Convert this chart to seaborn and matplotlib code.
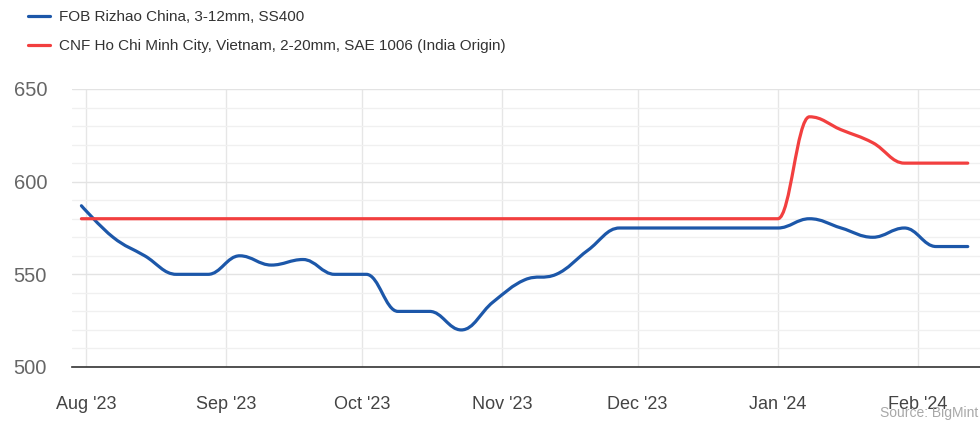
"""Steel plate price comparison chart."""

import matplotlib

matplotlib.use("Agg")
import matplotlib.dates as mdates
import matplotlib.pyplot as plt
import pandas as pd
import seaborn as sns
from matplotlib.lines import Line2D
from matplotlib.patches import PathPatch
from matplotlib.path import Path

# weekly assessments, USD/t
dates = pd.date_range("2023-07-31", "2024-02-12", freq="7D")
fob_rizhao = [587, 570, 560, 550, 550, 560, 555, 558, 550, 550, 530, 530, 520, 535,
              547, 550, 563, 575, 575, 575, 575, 575, 575, 580, 575, 570, 575, 565, 565]
cnf_hcmc = [580] * 23 + [635, 628, 621, 610, 610, 610]

series_names = [
    "FOB Rizhao China, 3-12mm, SS400",
    "CNF Ho Chi Minh City, Vietnam, 2-20mm, SAE 1006 (India Origin)",
]
series_colors = ["#1c57a9", "#f23f3f"]
month_ticks = pd.date_range("2023-08-01", "2024-02-01", freq="MS")


def spline_path(x, y, smoothing=1.5):
    # cubic bezier spline through the points (same rule as a Highcharts "spline")
    n = len(x)
    denom = smoothing + 1
    left = [(x[i], y[i]) for i in range(n)]
    right = [(x[i], y[i]) for i in range(n)]
    for i in range(1, n - 1):
        lx = (smoothing * x[i] + x[i - 1]) / denom
        ly = (smoothing * y[i] + y[i - 1]) / denom
        rx = (smoothing * x[i] + x[i + 1]) / denom
        ry = (smoothing * y[i] + y[i + 1]) / denom
        if rx != lx:
            corr = (ry - ly) * (rx - x[i]) / (rx - lx) + y[i] - ry
            ly += corr
            ry += corr
        hi, lo = max(y[i - 1], y[i]), min(y[i - 1], y[i])
        if ly > hi:
            ly = hi
            ry = 2 * y[i] - ly
        elif ly < lo:
            ly = lo
            ry = 2 * y[i] - ly
        hi, lo = max(y[i + 1], y[i]), min(y[i + 1], y[i])
        if ry > hi:
            ry = hi
            ly = 2 * y[i] - ry
        elif ry < lo:
            ry = lo
            ly = 2 * y[i] - ry
        left[i] = (lx, ly)
        right[i] = (rx, ry)
    verts = [(x[0], y[0])]
    codes = [Path.MOVETO]
    for i in range(1, n):
        verts += [right[i - 1], left[i], (x[i], y[i])]
        codes += [Path.CURVE4] * 3
    return Path(verts, codes)


sns.set_theme(style="white")
plt.rcParams["font.family"] = ["Liberation Sans", "DejaVu Sans"]

fig = plt.figure(figsize=(9.8, 4.3), dpi=100)
ax = fig.add_axes([72 / 980, 1 - 367 / 430, 908 / 980, 278 / 430])

xnum = mdates.date2num(dates)
for values, color in zip([fob_rizhao, cnf_hcmc], series_colors):
    patch = PathPatch(spline_path(list(xnum), list(values)), facecolor="none",
                      edgecolor=color, lw=2.3, capstyle="round", joinstyle="round", zorder=3)
    ax.add_patch(patch)

ax.set_xlim(mdates.date2num(pd.Timestamp("2023-07-28 22:00")),
            mdates.date2num(pd.Timestamp("2024-02-14 17:00")))
ax.set_ylim(500, 650)

ax.set_xticks(mdates.date2num(month_ticks))
ax.xaxis.set_major_formatter(mdates.DateFormatter("%b '%y"))
ax.set_yticks([500, 550, 600, 650])
ax.set_yticks(range(500, 651, 10), minor=True)

ax.grid(axis="x", which="major", color="#e6e6e6", lw=1)
ax.grid(axis="y", which="major", color="#e3e3e3", lw=1)
ax.grid(axis="y", which="minor", color="#f0f0f0", lw=1)
ax.set_axisbelow(True)

sns.despine(ax=ax, left=True, top=True, right=True)
ax.spines["bottom"].set_color("#333333")
ax.spines["bottom"].set_linewidth(1.2)
ax.tick_params(axis="x", which="major", length=10.5, width=1.2, color="#333333",
               direction="out", pad=10.5, labelsize=13, labelcolor="#444444")
ax.tick_params(axis="y", which="both", length=0, pad=18, labelsize=14.5, labelcolor="#666666")
ax.tick_params(axis="x", which="minor", length=0)
ax.set_xlabel("")
ax.set_ylabel("")

handles = [Line2D([0], [0], color=c, lw=2.3) for c in series_colors]
fig.legend(handles, series_names, loc="upper left", bbox_to_anchor=(28 / 980, 1 - 10 / 430),
           frameon=False, fontsize=11, handlelength=1.45, handletextpad=0.6,
           labelspacing=1.0, borderpad=0, borderaxespad=0, labelcolor="#333333")

fig.text(978 / 980, 1 - 413 / 430, "Source: BigMint", ha="right", va="center",
         fontsize=10, color="#a8a8a8")

fig.savefig("out.png", dpi=100)
